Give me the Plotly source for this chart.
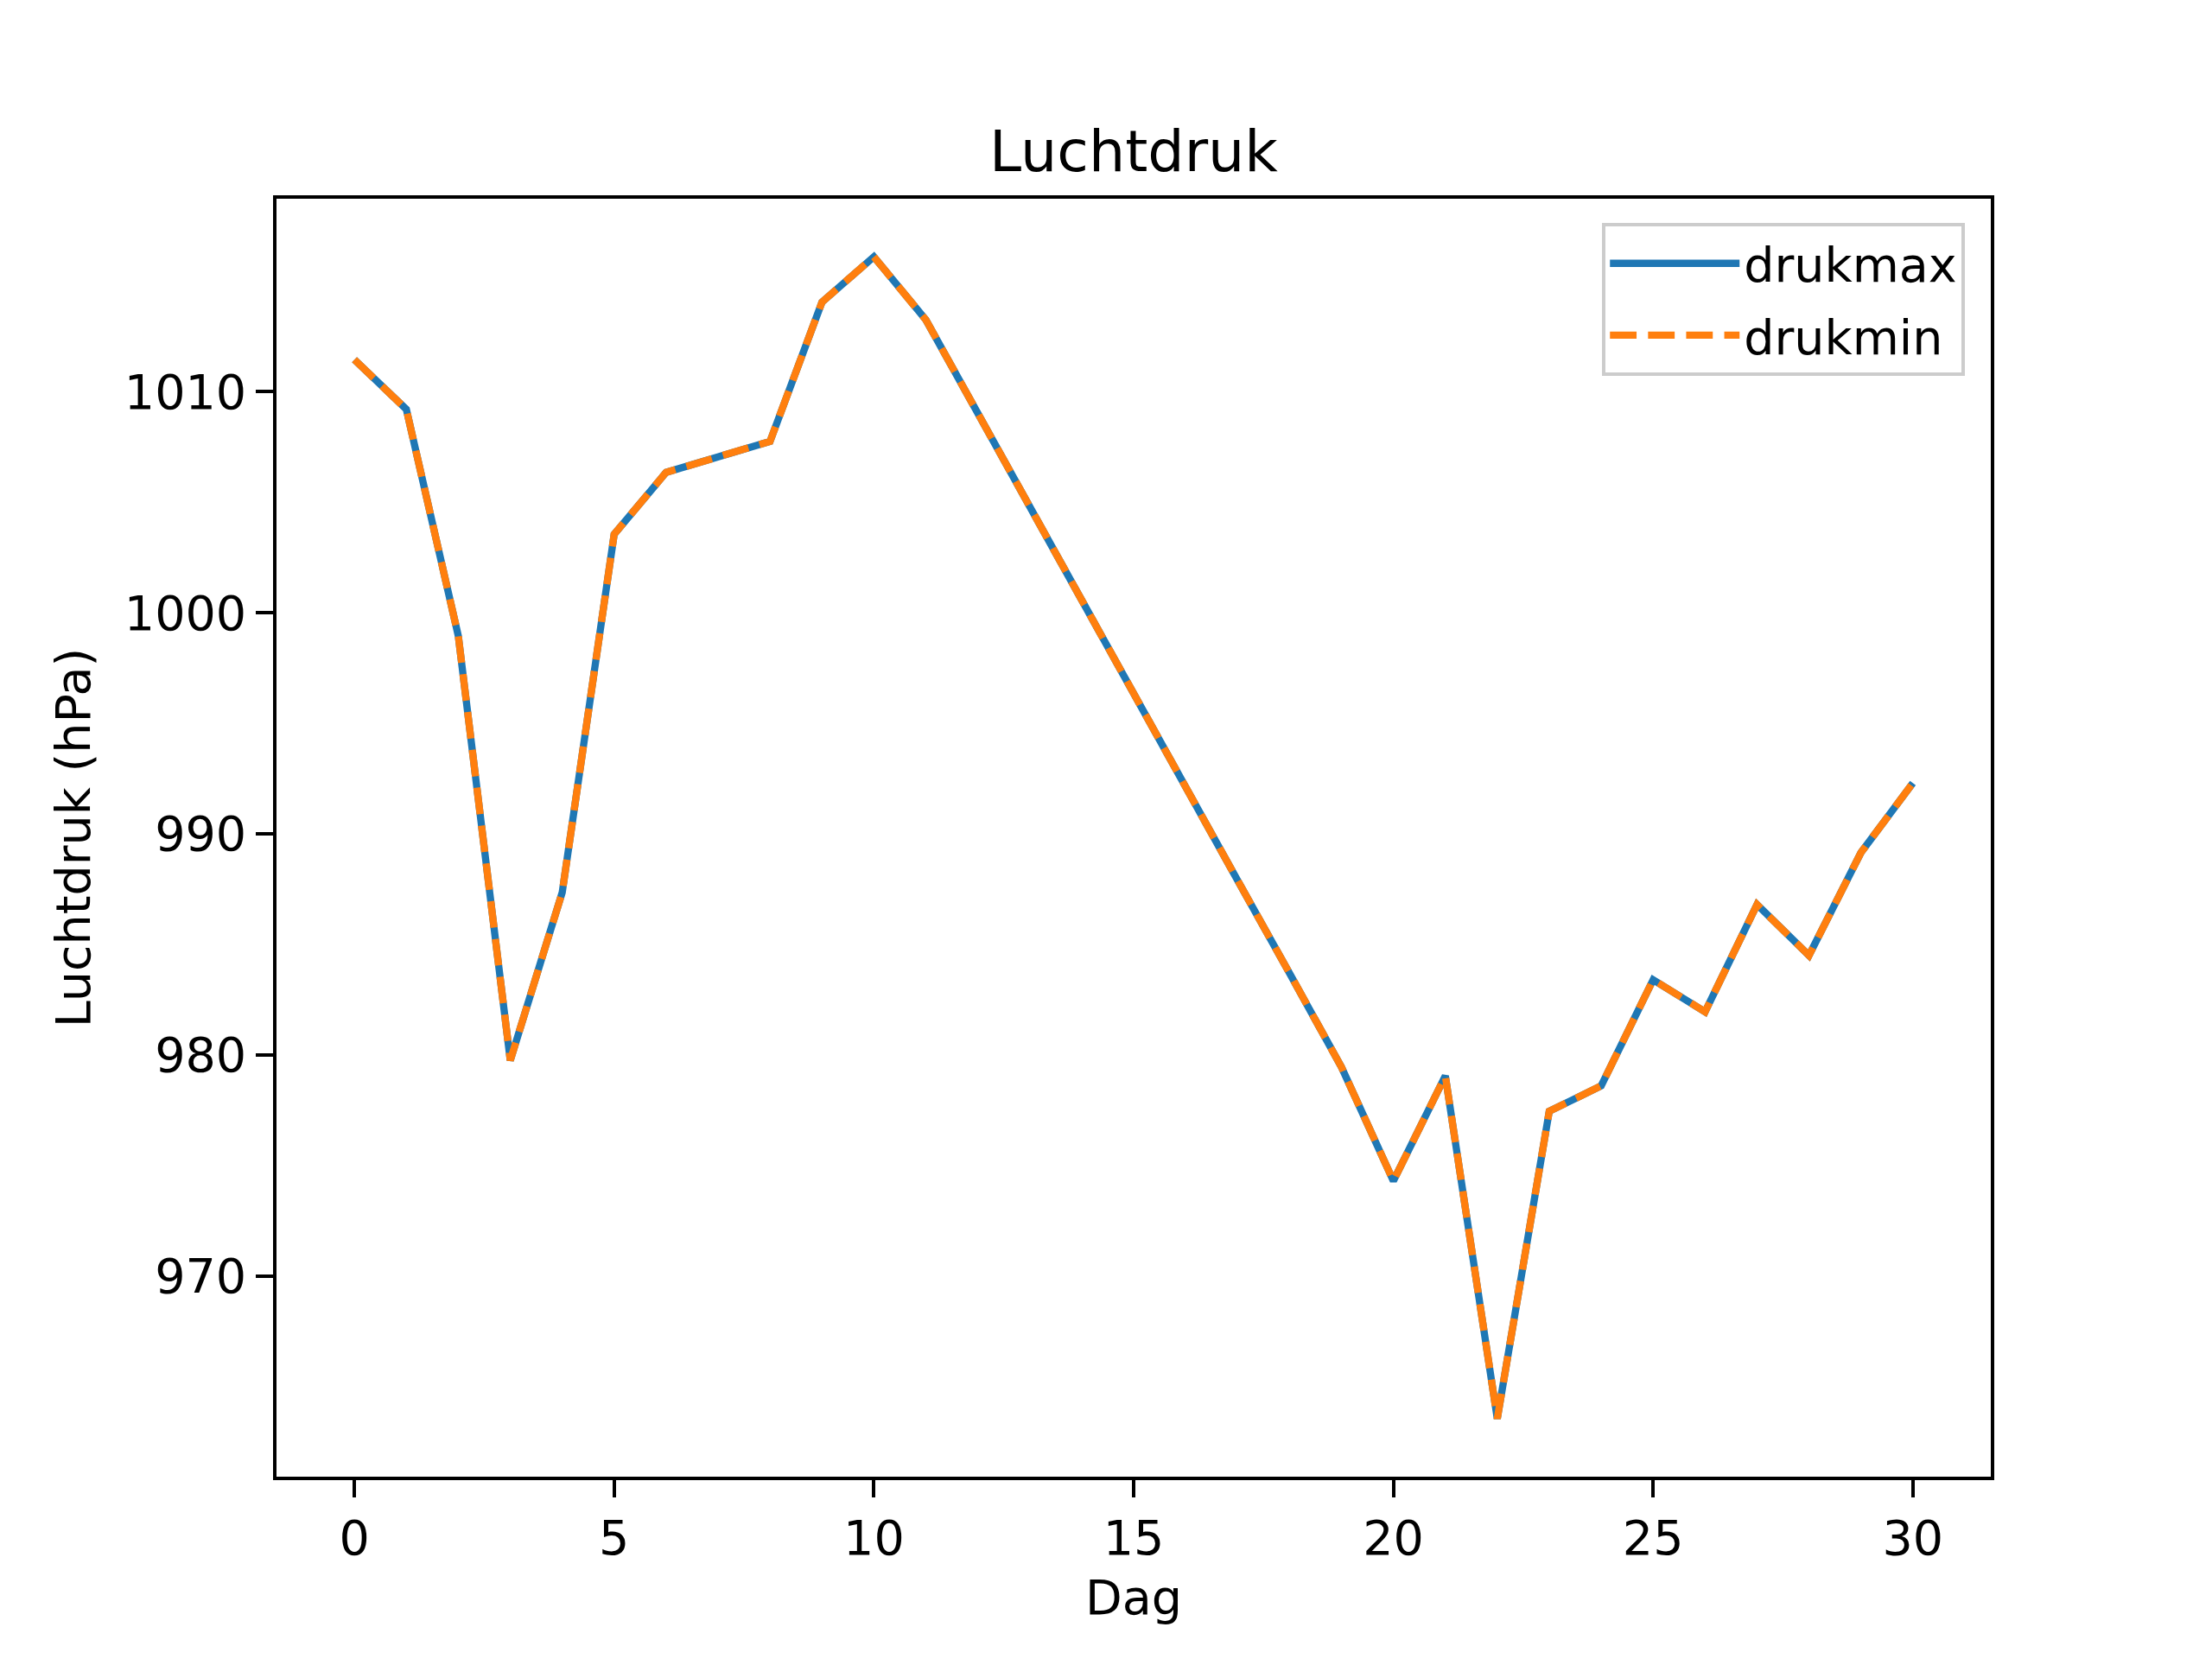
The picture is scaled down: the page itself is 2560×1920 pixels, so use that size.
import plotly.graph_objects as go

# Data
dagen = list(range(31))
drukmax = [1011.45, 1009.2, 998.95, 979.75, 987.35, 1003.55, 1006.35, 1007.05, 1007.75,
           1014.05, 1016.1, 1013.25, 1009.0, 1004.8, 1000.6, 996.35, 992.1, 987.9,
           983.7, 979.45, 974.3, 979.05, 963.55, 977.45, 978.6, 983.4, 981.95, 986.8,
           984.5, 989.15, 992.3]
drukmin = [1011.45, 1009.2, 998.95, 979.75, 987.35, 1003.55, 1006.35, 1007.05, 1007.75,
           1014.05, 1016.1, 1013.25, 1009.0, 1004.8, 1000.6, 996.35, 992.1, 987.9,
           983.7, 979.45, 974.3, 979.05, 963.55, 977.45, 978.6, 983.4, 981.95, 986.8,
           984.5, 989.15, 992.3]
x_ticks = [0, 5, 10, 15, 20, 25, 30]
y_ticks = [970, 980, 990, 1000, 1010]

FONT = "DejaVu Sans"
PT = 400 / 72  # pixels per point at the reference resolution

fig = go.Figure()
fig.add_trace(go.Scatter(x=dagen, y=drukmax, mode="lines", name="drukmax",
                         legendgroup="a",
                         line=dict(color="#1f77b4", width=1.5 * PT)))
fig.add_trace(go.Scatter(x=dagen, y=drukmin, mode="lines", name="drukmin",
                         legendgroup="b",
                         line=dict(color="#ff7f0e", width=1.5 * PT,
                                   dash=f"{5.55*PT:.1f}px,{2.4*PT:.1f}px")))

all_y = drukmax + drukmin
ymin, ymax = min(all_y), max(all_y)
ypad = 0.05 * (ymax - ymin)
xmin, xmax = min(dagen), max(dagen)
xpad = 0.05 * (xmax - xmin)

axis_common = dict(
    showline=True, mirror=True, linecolor="black", linewidth=0.8 * PT,
    ticks="outside", ticklen=3.5 * PT, tickwidth=0.8 * PT, tickcolor="black",
    showgrid=False, zeroline=False,
    tickfont=dict(family=FONT, size=10 * PT, color="black"),
)

fig.update_layout(
    width=2560, height=1920,
    margin=dict(l=312, r=264, t=222, b=219),
    paper_bgcolor="white", plot_bgcolor="white",
    font=dict(family=FONT, color="black"),
    title=dict(text="Luchtdruk", x=(312 + 2296) / 2 / 2560, xanchor="center",
               xref="container", yref="container", y=1 - 190 / 1920, yanchor="bottom",
               font=dict(family=FONT, size=12 * PT, color="black")),
    xaxis=dict(range=[xmin - xpad, xmax + xpad], tickvals=x_ticks,
               ticktext=[str(v) for v in x_ticks],
               title=dict(text="Dag", standoff=19,
                          font=dict(family=FONT, size=10 * PT, color="black")),
               **axis_common),
    yaxis=dict(range=[ymin - ypad, ymax + ypad], tickvals=y_ticks,
               ticktext=[str(v) for v in y_ticks],
               title=dict(text="Luchtdruk (hPa)", standoff=22,
                          font=dict(family=FONT, size=10 * PT, color="black")),
               **axis_common),
    legend=dict(x=0.985, y=0.981, xanchor="right", yanchor="top",
                bgcolor="rgba(255,255,255,0.8)", bordercolor="#cccccc", borderwidth=4,
                font=dict(family=FONT, size=10 * PT, color="black"),
                itemwidth=150, traceorder="grouped", tracegroupgap=8),
    showlegend=True,
)

fig.write_html("out.html")
